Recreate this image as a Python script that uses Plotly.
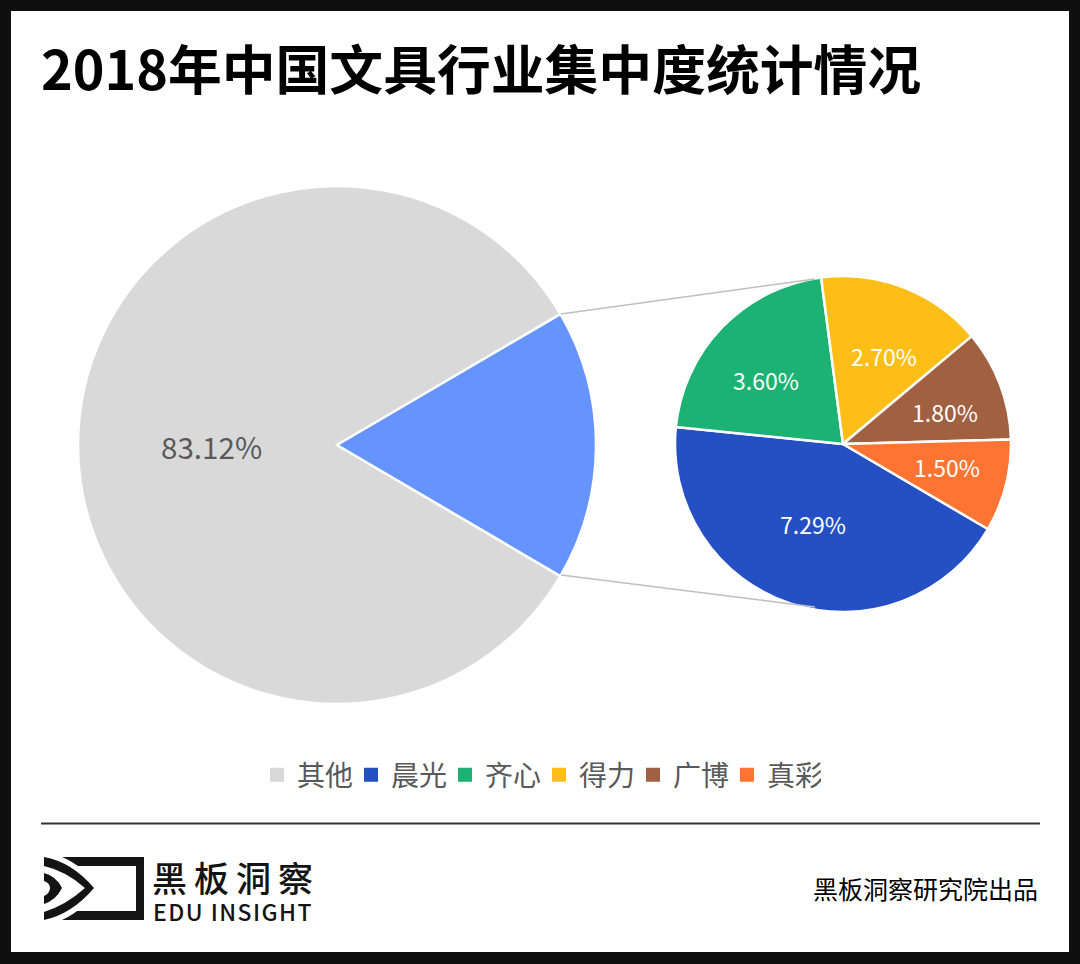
import math

import plotly.graph_objects as go

W, H = 1080, 964
FONT = "Noto Sans CJK SC"

# big pie: the rest of the market vs the five named brands
overview_values = [83.12, 16.88]
overview_labels = ["其他", "前五品牌"]
overview_colors = ["#d9d9d9", "#6694ff"]

# small pie
brands = ["晨光", "齐心", "得力", "广博", "真彩"]
brand_values = [7.29, 3.60, 2.70, 1.80, 1.50]
brand_colors = ["#2450c4", "#1bb273", "#fdbf17", "#a1603f", "#ff7333"]

# legend entries
legend_names = ["其他"] + brands
legend_values = [overview_values[0]] + brand_values
legend_colors = ["#d9d9d9"] + brand_colors

ROTATION = 120.4
BIG_CENTER, BIG_R = (337, 445), 259
SMALL_CENTER, SMALL_R = (843, 444), 168
# label placement: share of the radius along the middle angle, then a pixel nudge
big_label_radius = [0.49, None]
big_label_nudge = [(1, 2), (0, 0)]
small_label_radius = [0.52, 0.60, 0.56, 0.63, 0.63]
small_label_nudge = [(-3, -3), (-5, 6), (7, 0), (3, 6), (1, -3)]


def px(x):
    return x / W


def py(y):
    return 1 - y / H


def poly_path(cmds):
    # cmds are (letter, x, y, ...) in screen pixels
    out = []
    for c in cmds:
        pts = c[1:]
        coords = " ".join(
            f"{px(pts[i]):.5f},{py(pts[i + 1]):.5f}" for i in range(0, len(pts), 2)
        )
        out.append(c[0] + coords)
    return " ".join(out)


def blob(cmds, color):
    return dict(type="path", xref="paper", yref="paper", path=poly_path(cmds) + " Z",
                fillcolor=color, line=dict(width=0))


def seg(x0, y0, x1, y1, color, width):
    return dict(type="line", xref="paper", yref="paper", x0=px(x0), y0=py(y0), x1=px(x1), y1=py(y1),
                line=dict(color=color, width=width))


def label(text, x, y, size, color="#000000", anchor="left", bold=False, weight=None, height=None):
    if bold:
        text = f"<b>{text}</b>"
    font = dict(family=FONT, size=size, color=color)
    if weight:
        font["weight"] = weight
    ann = dict(text=text, x=px(x), y=py(y), xref="paper", yref="paper", xanchor=anchor, yanchor="middle",
               showarrow=False, font=font)
    if height:
        ann["height"] = height
    return ann


def slice_labels(values, center, radius, shares, nudges, size, color):
    # put a label on each slice at its middle angle
    total = sum(values)
    out = []
    start = ROTATION
    for v, share, nudge in zip(values, shares, nudges):
        sweep = v / total * 360
        mid = math.radians(start + sweep / 2)
        start += sweep
        if share is None:
            continue
        x = center[0] + radius * share * math.sin(mid) + nudge[0]
        y = center[1] - radius * share * math.cos(mid) + nudge[1]
        out.append(label(f"{v:.2f}%", x, y, size, color=color, anchor="center"))
    return out


fig = go.Figure()
# tiny pie hidden under the small one, only feeds the legend
# (stroke in the slice colour makes the squares bigger)
fig.add_trace(go.Pie(
    labels=legend_names, values=legend_values, sort=False,
    domain=dict(x=[px(842), px(844)], y=[py(445), py(443)]),
    marker=dict(colors=legend_colors, line=dict(color=legend_colors, width=2)),
    textinfo="none", hoverinfo="skip",
))
fig.add_trace(go.Pie(
    labels=overview_labels, values=overview_values, sort=False, direction="clockwise", rotation=ROTATION,
    domain=dict(x=[px(78), px(596)], y=[py(704), py(186)]),
    marker=dict(colors=overview_colors, line=dict(color="#ffffff", width=2.5)),
    textinfo="none", showlegend=False,
))
fig.add_trace(go.Pie(
    labels=brands, values=brand_values, sort=False, direction="clockwise", rotation=ROTATION,
    domain=dict(x=[px(675), px(1011)], y=[py(612), py(276)]),
    marker=dict(colors=brand_colors, line=dict(color="#ffffff", width=2.5)),
    textinfo="none", showlegend=False,
))

shapes = [
    dict(type="rect", xref="paper", yref="paper", layer="below", x0=px(11), x1=px(1069), y0=py(952), y1=py(11),
         fillcolor="#ffffff", line=dict(width=0)),
    # connectors between the two pies
    seg(561, 314, 815, 279, "#bfbfbf", 1.5),
    seg(561, 575, 815, 607, "#bfbfbf", 1.5),
    # footer rule
    seg(41, 823.5, 1040, 823.5, "#333333", 2),
    # logo
    blob([("M", 44, 857), ("L", 144, 857), ("L", 144, 920), ("L", 44, 920)], "#141414"),
    blob([("M", 44, 866), ("L", 136, 866), ("L", 136, 911), ("L", 44, 911)], "#ffffff"),
    blob([("M", 62, 857), ("Q", 84, 866, 98, 888), ("Q", 84, 910, 62, 920), ("L", 44, 920), ("L", 44, 857)], "#ffffff"),
    blob([("M", 44, 857), ("Q", 72, 862, 94, 888), ("Q", 72, 914, 44, 920), ("L", 44, 912),
          ("Q", 66, 905, 85, 888), ("Q", 66, 871, 44, 866)], "#141414"),
    blob([("M", 44, 873), ("Q", 56, 876, 62, 888), ("Q", 56, 900, 44, 904), ("L", 44, 896),
          ("Q", 50, 893, 50, 888), ("Q", 50, 883, 44, 881)], "#141414"),
]

annotations = [
    label("2018年中国文具行业集中度统计情况", 39, 67, 53.8, bold=True),
    label("黑\u2009板\u2009洞\u2009察", 150, 876, 35, color="#141414", weight=500, height=38),
    label("\u200a".join("EDU INSIGHT"), 151, 911, 23, color="#141414", weight=500, height=26),
    label("黑板洞察研究院出品", 1040, 888, 25, anchor="right"),
]
annotations += slice_labels(overview_values, BIG_CENTER, BIG_R, big_label_radius, big_label_nudge, 29.6, "#595959")
annotations += slice_labels(brand_values, SMALL_CENTER, SMALL_R, small_label_radius, small_label_nudge, 23, "#ffffff")

fig.update_layout(
    width=W, height=H, margin=dict(l=0, r=0, t=0, b=0),
    paper_bgcolor="#0f0f0f", plot_bgcolor="#ffffff",
    font=dict(family=FONT),
    shapes=shapes, annotations=annotations,
    legend=dict(orientation="h", x=px(257), y=py(775), xanchor="left", yanchor="middle",
                entrywidth=49, entrywidthmode="pixels", bgcolor="rgba(0,0,0,0)",
                font=dict(family=FONT, size=28, color="#595959")),
)

fig.write_html("out.html", config=dict(displayModeBar=False),
               post_script="document.body.style.margin='0';document.body.style.overflow='hidden';")
